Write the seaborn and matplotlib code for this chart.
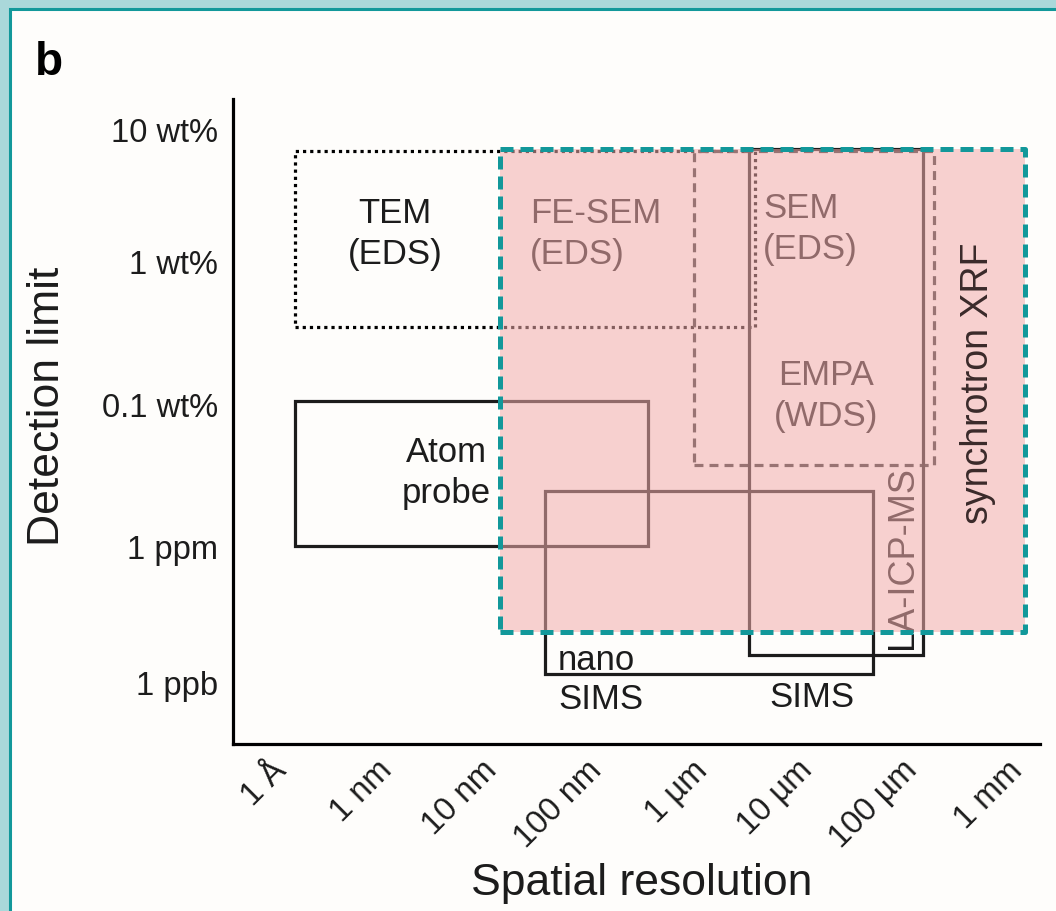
import matplotlib
matplotlib.use("Agg")
import matplotlib.pyplot as plt
from matplotlib.patches import Rectangle
from matplotlib.ticker import NullLocator
import seaborn as sns

# ---------------- data ----------------
x_tick_values = [1e-10, 1e-9, 1e-8, 1e-7, 1e-6, 1e-5, 1e-4, 1e-3]
x_tick_labels = ["1 Å", "1 nm", "10 nm", "100 nm", "1 µm", "10 µm", "100 µm", "1 mm"]

# detection-limit axis is drawn as an ordinal scale (1 ppb at bottom)
y_tick_values = [0.0, 0.984, 2.011, 3.045, 4.0]
y_tick_labels = ["1 ppb", "1 ppm", "0.1 wt%", "1 wt%", "10 wt%"]

box_names = ["TEM / FE-SEM (EDS)", "SEM (EDS) / EMPA (WDS)", "Atom probe", "nano SIMS", "SIMS / LA-ICP-MS"]
box_res_min = [1.33e-10, 8.3e-7, 1.33e-10, 3.17e-8, 2.77e-6]     # m
box_res_max = [3.15e-6, 1.59e-4, 3.03e-7, 4.18e-5, 1.25e-4]      # m
box_det_min = [2.568, 1.570, 0.984, 0.058, 0.195]
box_det_max = [3.841, 3.841, 2.033, 1.382, 3.855]

xrf_name = "synchrotron XRF"
xrf_res = [1.18e-8, 1.17e-3]
xrf_det = [0.362, 3.855]

# ---------------- styling ----------------
sns.set_theme(style="white")
plt.rcParams["font.family"] = ["Liberation Sans", "DejaVu Sans"]

INK = "#1c1c1c"
TEAL = "#12989A"

fig = plt.figure(figsize=(10.56, 9.12), dpi=100, facecolor="#AAD8DA")
panel = Rectangle((10 / 1056, -0.05), 1.2, 1 - 10 / 912 + 0.05,
                  transform=fig.transFigure, facecolor="#FEFDFB",
                  edgecolor=TEAL, linewidth=2.2, zorder=-10)
fig.patches.append(panel)

ax = fig.add_axes([233 / 1056, 1 - 745 / 912, (1040 - 233) / 1056, (745 - 100) / 912])
ax.set_facecolor("none")
ax.set_xscale("log")
ax.set_xlim(10 ** -10.466, 10 ** -2.79)
ax.set_ylim(-0.448, 4.217)
ax.grid(False)

sns.despine(ax=ax)
for s in ["left", "bottom"]:
    ax.spines[s].set_linewidth(2.3)
    ax.spines[s].set_color("black")

ax.set_xticks(x_tick_values)
ax.xaxis.set_minor_locator(NullLocator())
ax.set_xticklabels(x_tick_labels, rotation=45, ha="right", va="center",
                   rotation_mode="anchor")
ax.set_yticks(y_tick_values)
ax.set_yticklabels(y_tick_labels)
ax.tick_params(axis="both", which="major", direction="in", length=12, width=2.2,
               color="black", labelcolor=INK, labelsize=23.5)
ax.tick_params(axis="x", pad=15)
ax.tick_params(axis="y", pad=11)

ax.set_xlabel("Spatial resolution", fontsize=32, color=INK)
ax.xaxis.set_label_coords(0.507, -0.183)
ax.set_ylabel("Detection limit", fontsize=32, color=INK)
ax.yaxis.set_label_coords(-0.205, 0.525)

# ---------------- technique boxes ----------------
line_styles = {
    "TEM / FE-SEM (EDS)": dict(linestyle=(0, (1, 1.25)), linewidth=2.3, edgecolor="black"),
    "SEM (EDS) / EMPA (WDS)": dict(linestyle=(0, (2.8, 1.9)), linewidth=2.3, edgecolor="#2e2e2e"),
    "Atom probe": dict(linestyle="-", linewidth=2.3, edgecolor=INK),
    "nano SIMS": dict(linestyle="-", linewidth=2.3, edgecolor=INK),
    "SIMS / LA-ICP-MS": dict(linestyle="-", linewidth=2.3, edgecolor=INK),
}
for name, x0, x1, y0, y1 in zip(box_names, box_res_min, box_res_max, box_det_min, box_det_max):
    ax.add_patch(Rectangle((x0, y0), x1 - x0, y1 - y0, fill=False, zorder=2,
                           joinstyle="miter", **line_styles[name]))

# labels (drawn beneath the translucent XRF field where they overlap it)
lab = dict(fontsize=25, color=INK, zorder=2.5, linespacing=1.3)
ax.text(1.19e-9, 3.248, "TEM\n(EDS)", ha="center", va="center", **lab)
ax.text(2.29e-8, 3.248, "FE-SEM\n(EDS)", ha="left", va="center", **lab)
ax.text(3.76e-6, 3.284, "SEM\n(EDS)", ha="left", va="center", **lab)
ax.text(1.49e-5, 2.076, "EMPA\n(WDS)", ha="center", va="center", **lab)
ax.text(3.63e-9, 1.519, "Atom\nprobe", ha="center", va="center", **lab)
ax.text(4.22e-8, 0.022, "nano\nSIMS", ha="left", va="center",
        fontsize=25, color=INK, zorder=2.5, linespacing=1.22)
ax.text(1.1e-5, -0.101, "SIMS", ha="center", va="center", fontsize=25, color=INK, zorder=2.5)
ax.text(8.05e-5, 0.911, "LA-ICP-MS", ha="center", va="center", rotation=90,
        fontsize=26, color=INK, zorder=2.5)

# synchrotron XRF translucent field with teal dashed border
ax.add_patch(Rectangle((xrf_res[0], xrf_det[0]), xrf_res[1] - xrf_res[0], xrf_det[1] - xrf_det[0],
                       facecolor=(242 / 255, 172 / 255, 172 / 255), alpha=0.55,
                       linewidth=0, zorder=3))
ax.add_patch(Rectangle((xrf_res[0], xrf_det[0]), xrf_res[1] - xrf_res[0], xrf_det[1] - xrf_det[0],
                       fill=False, edgecolor=TEAL, linewidth=3.6,
                       linestyle=(0, (2.6, 1.4)), joinstyle="round", zorder=4))
ax.text(4.17e-4, 2.17, xrf_name, ha="center", va="center", rotation=90,
        fontsize=27, color="#3a2a2a", zorder=5)

fig.text(35 / 1056, 1 - 75 / 912, "b", fontsize=33, fontweight="bold", color="black",
         ha="left", va="baseline")

fig.savefig("out.png", dpi=100, facecolor=fig.get_facecolor())
